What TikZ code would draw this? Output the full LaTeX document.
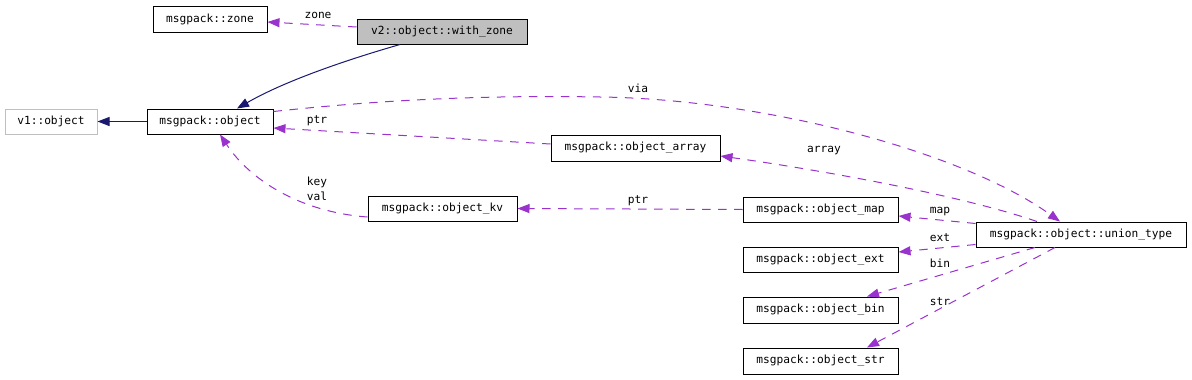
\documentclass[tikz,border=0pt]{standalone}
\usepackage{fontspec}
\setmonofont{DejaVu Sans Mono}
\usetikzlibrary{arrows.meta}
\definecolor{depcol}{HTML}{9A32CD}
\definecolor{inhcol}{HTML}{191970}
\definecolor{lgray}{HTML}{BFBFBF}
\tikzset{
  txtfont/.style={font=\ttfamily\fontsize{11.2}{14.5}\selectfont},
  box/.style={txtfont, draw=black, line width=1pt, rectangle, inner sep=0pt,
    minimum height=25pt, text=black},
  graybox/.style={box, draw=lgray},
  curbox/.style={box, fill=lgray},
  lbl/.style={txtfont, inner sep=0pt, text=black},
  depedge/.style={draw=depcol, line width=1pt, dash pattern=on 8.5pt off 7.5pt,
    -{Triangle[length=12pt,width=9pt,fill=depcol]}},
  inhedge/.style={draw=inhcol, line width=1pt,
    -{Triangle[length=12pt,width=9pt,fill=inhcol]}}
}
\begin{document}
\begin{tikzpicture}[x=1pt,y=-1pt]
\useasboundingbox (0,0) rectangle (1192,380);
% nodes
\node[box, minimum width=114pt, minimum height=26pt] (zone) at (210,19) {msgpack::zone};
\node[curbox, minimum width=170pt] (withzone) at (442,31.5) {v2::object::with\_zone};
\node[graybox, minimum width=92pt] (v1) at (51,121.5) {v1::object};
\node[box, minimum width=126pt] (obj) at (210,121.5) {msgpack::object};
\node[box, minimum width=169pt, minimum height=26pt] (arr) at (635.5,148) {msgpack::object\_array};
\node[box, minimum width=149pt] (kv) at (442.5,208.5) {msgpack::object\_kv};
\node[box, minimum width=155pt] (map) at (820.5,209.5) {msgpack::object\_map};
\node[box, minimum width=210pt] (union) at (1081,234.5) {msgpack::object::union\_type};
\node[box, minimum width=155pt] (ext) at (820.5,259.5) {msgpack::object\_ext};
\node[box, minimum width=155pt, minimum height=26pt] (bin) at (820.5,310) {msgpack::object\_bin};
\node[box, minimum width=155pt, minimum height=26pt] (str) at (820.5,361) {msgpack::object\_str};
% edges
\draw[depedge] ([yshift=4.5pt]withzone.west) -- ([yshift=-3pt]zone.east);
\draw[inhedge] ([xshift=-42pt]withzone.south) .. controls (360,56) and (290,78) .. ([xshift=27pt]obj.north);
\draw[inhedge] (obj.west) -- (v1.east);
\draw[depedge] ([yshift=10pt]obj.east) .. controls (380,100) and (480,95) .. (600,97)
   .. controls (760,99) and (960,150) .. ([xshift=-21pt]union.north);
\draw[depedge] ([xshift=-44pt]union.north) .. controls (960,195) and (820,170) .. ([yshift=-8pt]arr.east);
\draw[depedge] ([yshift=4pt]arr.west) -- ([yshift=-6.5pt]obj.east);
\draw[depedge] ([yshift=-8.5pt]kv.west) .. controls (300,212) and (250,180) .. ([xshift=10pt]obj.south);
\draw[depedge] (map.west) -- (kv.east);
\draw[depedge] ([yshift=11pt]union.west) -- ([yshift=-6.5pt]map.east);
\draw[depedge] ([yshift=-10pt]union.west) -- ([yshift=7.5pt]ext.east);
\draw[depedge] ([xshift=-46pt]union.south) -- ([xshift=46.5pt]bin.north);
\draw[depedge] ([xshift=-26pt]union.south) -- ([xshift=46.5pt]str.north);
% labels
\node[lbl] (lzone) at (318,15) {zone};
\node[lbl] (lvia) at (638,88) {via};
\node[lbl] (lptr1) at (317,121) {ptr};
\node[lbl, align=center] (lkv) at (317,189) {key\\val};
\node[lbl] (lptr2) at (638,201) {ptr};
\node[lbl] (larray) at (824,151) {array};
\node[lbl] (lmap) at (940,212) {map};
\node[lbl] (lext) at (940,238) {ext};
\node[lbl] (lbin) at (940,263) {bin};
\node[lbl] (lstr) at (940,302) {str};
\end{tikzpicture}
\end{document}
